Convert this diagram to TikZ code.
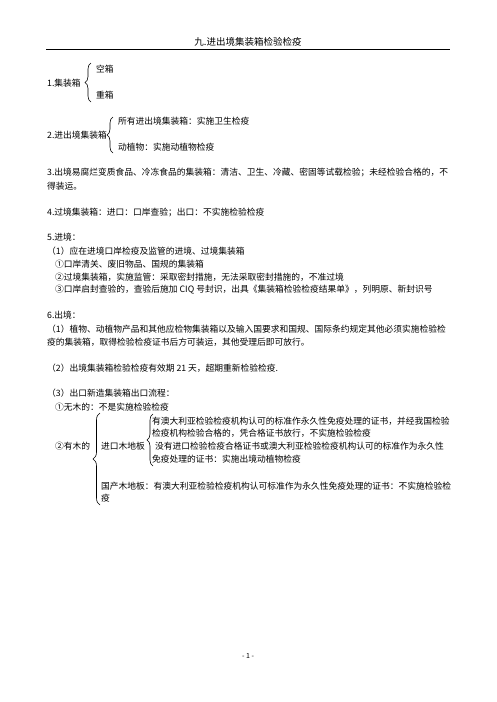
\documentclass[tikz,border=0pt]{standalone}
\usepackage{fontspec}
\setmainfont{Noto Sans CJK SC}
\usetikzlibrary{decorations.pathreplacing}
\begin{document}
\begin{tikzpicture}[x=1pt,y=-1pt,
  txt/.style={anchor=west,inner sep=0pt,font=\fontsize{8.75}{10}\selectfont},
  brc/.style={decorate,decoration={brace,amplitude=#1},line width=0.6pt}]
\useasboundingbox[fill=white] (0,0) rectangle (496,702);
% header
\node[anchor=center,inner sep=0pt,font=\fontsize{9.5}{11}\selectfont] (hdr) at (248,42) {九.进出境集装箱检验检疫};
\coordinate (rl) at (46,49);
\coordinate (rr) at (450,49);
\draw[line width=0.8pt] (rl) -- (rr);
% item 1
\node[txt] (i1) at (47,83) {1.集装箱};
\coordinate (b1t) at (91,63);
\coordinate (b1b) at (91,102);
\draw[brc=6pt] (b1b) -- (b1t);
\node[txt] (i1a) at (96,69) {空箱};
\node[txt] (i1b) at (96,95) {重箱};
% item 2
\node[txt] (i2) at (47,135) {2.进出境集装箱};
\coordinate (b2t) at (113,117);
\coordinate (b2b) at (113,153);
\draw[brc=6pt] (b2b) -- (b2t);
\node[txt] (i2a) at (118,121) {所有进出境集装箱：实施卫生检疫};
\node[txt] (i2b) at (118,147) {动植物：实施动植物检疫};
% item 3
\node[txt] (i3a) at (47,172) {3.出境易腐烂变质食品、冷冻食品的集装箱：清洁、卫生、冷藏、密固等试载检验；未经检验合格的，不};
\node[txt] (i3b) at (47,186) {得装运。};
% item 4
\node[txt] (i4) at (47,212) {4.过境集装箱：进口：口岸查验；出口：不实施检验检疫};
% item 5
\node[txt] (i5) at (47,237) {5.进境：};
\node[txt] (i51) at (47,251) {（1）应在进境口岸检疫及监管的进境、过境集装箱};
\node[txt] (i51a) at (55,264) {①口岸清关、废旧物品、国规的集装箱};
\node[txt] (i51b) at (55,277) {②过境集装箱，实施监管：采取密封措施，无法采取密封措施的，不准过境};
\node[txt] (i51c) at (55,290) {③口岸启封查验的，查验后施加 CIQ 号封识，出具《集装箱检验检疫结果单》，列明原、新封识号};
% item 6
\node[txt] (i6) at (47,315) {6.出境：};
\node[txt] (i61a) at (47,329) {（1）植物、动植物产品和其他应检物集装箱以及输入国要求和国规、国际条约规定其他必须实施检验检};
\node[txt] (i61b) at (47,342) {疫的集装箱，取得检验检疫证书后方可装运，其他受理后即可放行。};
\node[txt] (i62) at (47,368) {（2）出境集装箱检验检疫有效期 21 天，超期重新检验检疫.};
\node[txt] (i63) at (47,393) {（3）出口新造集装箱出口流程：};
\node[txt] (i63a) at (55,407) {①无木的：不是实施检验检疫};
\node[txt] (i63b) at (55,446) {②有木的};
\coordinate (b3t) at (100,413);
\coordinate (b3b) at (100,505);
\draw[brc=7pt] (b3b) -- (b3t);
\node[txt] (jk) at (101,446) {进口木地板};
\coordinate (b4t) at (153,414);
\coordinate (b4b) at (153,466);
\draw[brc=6pt] (b4b) -- (b4t);
\node[txt] (jk1a) at (152,421) {有澳大利亚检验检疫机构认可的标准作永久性免疫处理的证书，并经我国检验};
\node[txt] (jk1b) at (152,433) {检疫机构检验合格的，凭合格证书放行，不实施检验检疫};
\node[txt] (jk2a) at (155,446) {没有进口检验检疫合格证书或澳大利亚检验检疫机构认可的标准作为永久性};
\node[txt] (jk2b) at (152,459) {免疫处理的证书：实施出境动植物检疫};
\node[txt] (gc1) at (101,486) {国产木地板：有澳大利亚检验检疫机构认可标准作为永久性免疫处理的证书：不实施检验检};
\node[txt] (gc2) at (101,498) {疫};
% page number
\node[anchor=center,inner sep=0pt,font=\fontsize{7}{8}\selectfont] (pg) at (248,656) {- 1 -};
\end{tikzpicture}
\end{document}
